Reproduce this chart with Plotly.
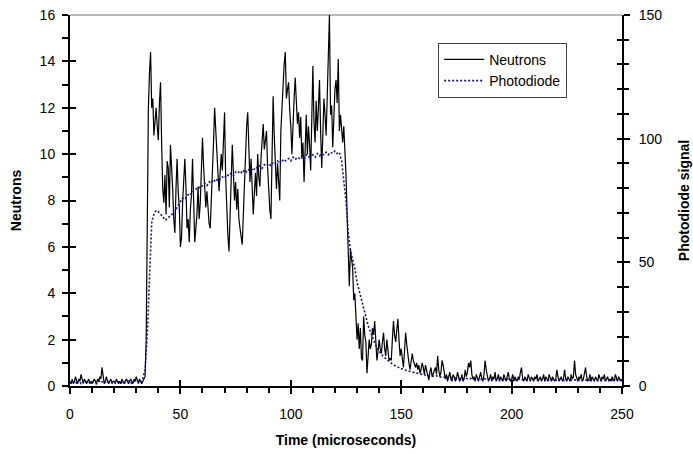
import plotly.graph_objects as go

# ---------------- data ----------------
NEUTRON_STEP_US = 0.5   # sample spacing of the neutron record
neutrons = [
    # 0 - 9.5
    0.2,0.1,0.3,0.1,0.2,0.4,0.2,0.1,0.3,0.2, 0.5,0.2,0.1,0.3,0.2,0.1,0.2,0.3,0.1,0.2,
    # 10 - 19.5
    0.1,0.2,0.3,0.2,0.1,0.3,0.2,0.4,0.3,0.8, 0.3,0.1,0.2,0.4,0.2,0.1,0.2,0.3,0.1,0.2,
    # 20 - 29.5
    0.2,0.1,0.3,0.2,0.1,0.2,0.1,0.3,0.2,0.1, 0.2,0.3,0.2,0.1,0.2,0.3,0.2,0.1,0.3,0.2,
    # 30 - 39.5
    0.4,0.2,0.1,0.3,0.2,0.1,0.2,0.3,0.4,2.0, 8.5,12.0,13.5,14.4,12.0,12.4,10.8,11.3,12.0,11.2,
    # 40 - 49.5
    10.6,12.2,13.1,10.5,8.5,7.9,9.1,7.4,9.7,9.4, 7.7,10.4,9.0,8.5,7.2,6.6,8.5,9.8,8.4,7.7,
    # 50 - 59.5
    6.0,6.4,7.9,8.8,9.8,8.6,6.8,7.2,6.2,7.6, 8.2,9.8,8.0,6.2,6.8,7.4,8.6,7.2,7.9,9.2,
    # 60 - 69.5
    10.7,9.5,8.5,7.7,8.4,7.5,7.0,6.8,7.9,8.8, 10.5,12.0,10.8,10.4,9.2,8.4,9.0,10.0,9.3,10.6,
    # 70 - 79.5
    11.8,9.0,7.4,6.5,5.8,7.6,8.8,10.4,9.2,8.0, 8.8,7.6,8.5,7.2,6.8,6.3,6.1,7.4,8.9,10.2,
    # 80 - 89.5
    11.2,11.8,9.6,8.8,9.8,8.4,7.4,8.3,9.2,8.2, 10.0,9.0,8.6,9.8,10.5,11.3,10.2,10.8,11.0,9.4,
    # 90 - 99.5
    8.2,7.6,7.2,9.5,12.5,10.8,9.2,8.5,9.6,8.4, 8.0,11.0,12.2,13.2,13.9,14.4,12.4,12.8,13.1,11.9,
    # 100 - 109.5
    11.2,10.0,11.5,12.4,13.3,12.0,11.3,11.8,10.7,11.6, 9.8,10.5,8.8,10.2,11.7,10.0,11.2,10.4,9.3,11.5,
    # 110 - 119.5
    13.8,11.4,10.5,12.3,11.0,12.0,13.2,11.0,9.4,10.8, 12.4,11.7,10.8,12.5,14.8,16.0,11.7,12.1,10.3,11.8,
    # 120 - 129.5
    12.8,13.2,12.2,14.1,11.0,11.7,10.9,10.5,11.2,10.3, 9.1,7.4,6.2,4.3,5.9,5.4,5.1,3.7,4.0,3.0,
    # 130 - 139.5
    2.0,2.7,1.6,2.5,1.2,1.1,3.0,2.2,1.9,0.55, 1.4,2.0,1.6,1.8,2.5,2.2,2.8,2.0,1.1,1.5,
    # 140 - 149.5
    2.0,1.6,1.4,1.9,2.3,1.6,1.3,2.0,1.6,1.1, 1.2,1.1,2.0,2.8,2.2,1.9,2.4,2.9,2.0,1.3,
    # 150 - 159.5
    1.6,1.2,0.8,1.5,2.3,1.8,1.3,1.0,0.7,1.2, 1.4,1.1,0.9,0.8,1.0,0.7,0.9,0.55,0.7,1.0,
    # 160 - 169.5
    0.8,0.5,0.9,0.7,0.4,0.25,0.6,0.8,0.4,0.55, 0.7,0.8,0.5,1.3,0.7,0.4,0.6,1.1,0.9,0.5,
    # 170 - 179.5
    0.3,0.5,0.2,0.4,0.6,0.3,0.2,0.5,0.4,0.2, 0.3,0.6,0.4,0.2,0.3,0.5,0.2,0.3,0.7,0.4,
    # 180 - 189.5
    0.6,1.0,0.8,1.1,0.5,0.3,0.4,0.2,0.5,0.3, 0.2,0.4,0.6,0.3,0.2,0.5,1.1,0.7,0.4,0.2,
    # 190 - 199.5
    0.3,0.5,0.2,0.4,0.3,0.6,0.2,0.3,0.5,0.2, 0.4,0.3,0.2,0.5,0.3,0.2,0.4,0.6,0.3,0.2,
    # 200 - 209.5
    0.3,0.5,0.2,0.4,0.3,0.2,0.4,0.3,0.6,0.8, 0.3,0.2,0.4,0.3,0.2,0.5,0.3,0.2,0.4,0.3,
    # 210 - 219.5
    0.2,0.4,0.3,0.5,0.2,0.3,0.4,0.2,0.3,0.5, 0.2,0.4,0.3,0.2,0.5,0.3,0.2,0.4,0.3,0.2,
    # 220 - 229.5
    0.3,0.7,0.4,0.2,0.3,0.4,0.2,0.3,0.7,0.3, 0.2,0.4,0.3,0.2,0.5,0.3,0.4,1.1,0.5,0.3,
    # 230 - 239.5
    0.2,0.4,0.3,0.5,0.2,0.3,0.6,0.8,0.4,0.2, 0.3,0.5,0.2,0.4,0.3,0.2,0.4,0.3,0.2,0.5,
    # 240 - 249.5
    0.3,0.2,0.4,0.3,0.5,0.2,0.3,0.4,0.2,0.3, 0.2,0.4,0.3,0.2,0.5,0.3,0.2,0.4,0.3,0.2,
    # 250
    0.3,
]

PHOTODIODE_STEP_US = 1.0
photodiode = [
    # 0 - 9
    1.5,0.8,2.0,1.2,2.5,1.0,1.8,2.2,1.0,1.6,
    # 10 - 19
    2.0,1.2,0.9,1.8,2.4,1.1,1.5,2.0,1.3,1.7,
    # 20 - 29
    1.2,2.1,1.6,1.0,1.9,1.4,2.2,1.5,1.1,2.0,
    # 30 - 39
    1.6,2.4,1.8,3.0,6.5,21.0,48.0,66.0,69.5,71.0,
    # 40 - 49
    70.5,69.5,68.5,67.0,67.5,68.5,69.0,71.0,71.5,73.0,
    # 50 - 59
    74.5,76.0,75.5,77.0,78.0,77.5,79.0,79.5,80.5,80.0,
    # 60 - 69
    81.0,82.0,81.0,82.5,82.0,83.5,82.5,84.0,83.5,84.5,
    # 70 - 79
    84.0,85.5,85.0,86.0,85.0,86.5,86.0,87.0,86.0,87.5,
    # 80 - 89
    86.5,87.5,88.0,87.0,88.5,88.0,89.0,88.0,89.5,89.0,
    # 90 - 99
    90.0,89.0,90.5,90.0,91.0,90.0,91.5,90.5,91.5,92.0,
    # 100 - 109
    91.0,92.5,91.5,92.5,92.0,93.0,92.0,93.5,92.5,93.0,
    # 110 - 119
    93.5,92.5,94.0,93.0,94.0,93.5,94.5,93.5,94.5,94.0,
    # 120 - 129
    95.0,94.0,94.5,91.0,84.0,75.0,62.0,55.0,51.0,47.5,
    # 130 - 139
    42.0,38.5,34.0,30.5,27.0,24.5,22.0,19.5,17.5,15.5,
    # 140 - 149
    14.0,12.8,11.8,11.0,10.2,9.5,8.9,8.3,7.8,7.4,
    # 150 - 159
    7.0,6.8,6.3,6.0,5.9,5.5,5.4,5.2,5.0,4.7,
    # 160 - 169
    4.6,4.5,4.2,4.3,4.0,3.8,4.1,3.7,3.6,3.8,
    # 170 - 179
    3.4,3.6,3.2,3.5,3.1,3.4,3.0,3.3,2.9,3.2,
    # 180 - 189
    3.0,2.8,3.3,2.7,3.1,2.9,2.6,3.2,2.8,2.7,
    # 190 - 199
    3.0,2.5,2.9,2.7,3.1,2.6,2.4,2.9,2.8,2.5,
    # 200 - 209
    2.7,2.9,2.4,2.6,3.0,2.5,2.3,2.8,2.6,2.4,
    # 210 - 219
    2.8,2.5,2.3,2.7,2.6,2.2,2.9,2.4,2.5,2.7,
    # 220 - 229
    2.3,2.6,2.8,2.4,2.2,2.7,2.5,2.3,2.6,2.4,
    # 230 - 239
    2.2,2.6,2.4,2.8,2.3,2.5,2.1,2.4,2.7,2.3,
    # 240 - 249
    2.5,2.2,2.4,2.6,2.3,2.1,2.5,2.8,2.3,2.2,
    # 250
    2.4,
]

time_neutrons = [i * NEUTRON_STEP_US for i in range(len(neutrons))]
time_photodiode = [i * PHOTODIODE_STEP_US for i in range(len(photodiode))]

x_range = [0, 250]
x_ticks = [0, 50, 100, 150, 200, 250]
y_left_range = [0, 16]
y_right_range = [0, 150]

# ---------------- figure ----------------
FONT = "Arial, 'Liberation Sans', Helvetica, sans-serif"
AX = "#000000"

fig = go.Figure()
fig.add_trace(go.Scatter(
    x=time_neutrons, y=neutrons, name="Neutrons", mode="lines",
    line=dict(color="#000000", width=1.2), xaxis="x", yaxis="y"))
fig.add_trace(go.Scatter(
    x=time_photodiode, y=photodiode, name="Photodiode", mode="lines",
    line=dict(color="#10109a", width=1.6, dash="2px,2px"), xaxis="x", yaxis="y2"))

# invisible helpers so the tick-overlay axes are drawn (ticks crossing the axis lines)
fig.add_trace(go.Scatter(x=[None], y=[None], xaxis="x2", yaxis="y3",
                         showlegend=False, hoverinfo="skip"))
fig.add_trace(go.Scatter(x=[None], y=[None], xaxis="x2", yaxis="y4",
                         showlegend=False, hoverinfo="skip"))

tickfont = dict(family=FONT, size=14, color="#000000")
titlefont = dict(family=FONT, size=14, color="#000000", weight="bold")

fig.update_layout(
    width=693, height=454,
    margin=dict(l=70, r=71, t=15, b=68, autoexpand=False),
    paper_bgcolor="white", plot_bgcolor="white",
    font=dict(family=FONT, size=14, color="#000000"),
    showlegend=True,
    legend=dict(
        x=0.667, y=0.925, xanchor="left", yanchor="top",
        bgcolor="white", bordercolor="#404040", borderwidth=1,
        font=dict(family=FONT, size=14, color="#000000"),
        tracegroupgap=0, itemwidth=40, entrywidth=110,
    ),
    xaxis=dict(
        range=x_range, tickvals=x_ticks, showgrid=False, zeroline=False,
        showline=True, linecolor=AX, linewidth=2, automargin=False,
        ticks="outside", ticklen=6, tickwidth=2, tickcolor=AX,
        minor=dict(dtick=10, ticks="outside", ticklen=5, tickwidth=1.5, tickcolor=AX, showgrid=False),
        tickfont=tickfont, ticklabelstandoff=8,
        title=dict(text="Time (microseconds)", font=titlefont, standoff=14),
    ),
    xaxis2=dict(
        range=x_range, overlaying="x", side="bottom", anchor="y", automargin=False,
        tickvals=x_ticks, showticklabels=False, showgrid=False, zeroline=False,
        showline=False, ticks="inside", ticklen=6, tickwidth=2, tickcolor=AX,
    ),
    yaxis=dict(
        range=y_left_range, dtick=2, showgrid=False, zeroline=False,
        showline=True, linecolor=AX, linewidth=2, automargin=False,
        ticks="outside", ticklen=6, tickwidth=2, tickcolor=AX,
        minor=dict(dtick=1, ticks="outside", ticklen=6, tickwidth=1.5, tickcolor=AX, showgrid=False),
        tickfont=tickfont, ticklabelstandoff=4,
        title=dict(text="Neutrons", font=titlefont, standoff=15),
    ),
    yaxis3=dict(
        range=y_left_range, dtick=2, overlaying="y", side="left", anchor="x", automargin=False,
        showticklabels=False, showgrid=False, zeroline=False, showline=False,
        ticks="inside", ticklen=6, tickwidth=2, tickcolor=AX,
    ),
    yaxis2=dict(
        range=y_right_range, dtick=50, overlaying="y", side="right", anchor="x",
        showgrid=False, zeroline=False, automargin=False,
        showline=True, linecolor=AX, linewidth=2,
        ticks="outside", ticklen=6, tickwidth=2, tickcolor=AX,
        minor=dict(dtick=10, ticks="outside", ticklen=5, tickwidth=1.5, tickcolor=AX, showgrid=False),
        tickfont=tickfont, ticklabelstandoff=6,
        title=dict(text="Photodiode signal", font=titlefont, standoff=18),
    ),
    yaxis4=dict(
        range=y_right_range, dtick=10, overlaying="y", side="right", anchor="x", automargin=False,
        showticklabels=False, showgrid=False, zeroline=False, showline=False,
        ticks="inside", ticklen=5, tickwidth=1.5, tickcolor=AX,
    ),
    shapes=[dict(type="line", xref="paper", yref="paper", x0=0, x1=1, y0=1, y1=1,
                 line=dict(color="#a0a0a0", width=1.5), layer="below")],
)

fig.write_html(
    "out.html",
    config={"displayModeBar": False},
    post_script="document.body.style.margin='0';document.body.style.padding='0';",
)
